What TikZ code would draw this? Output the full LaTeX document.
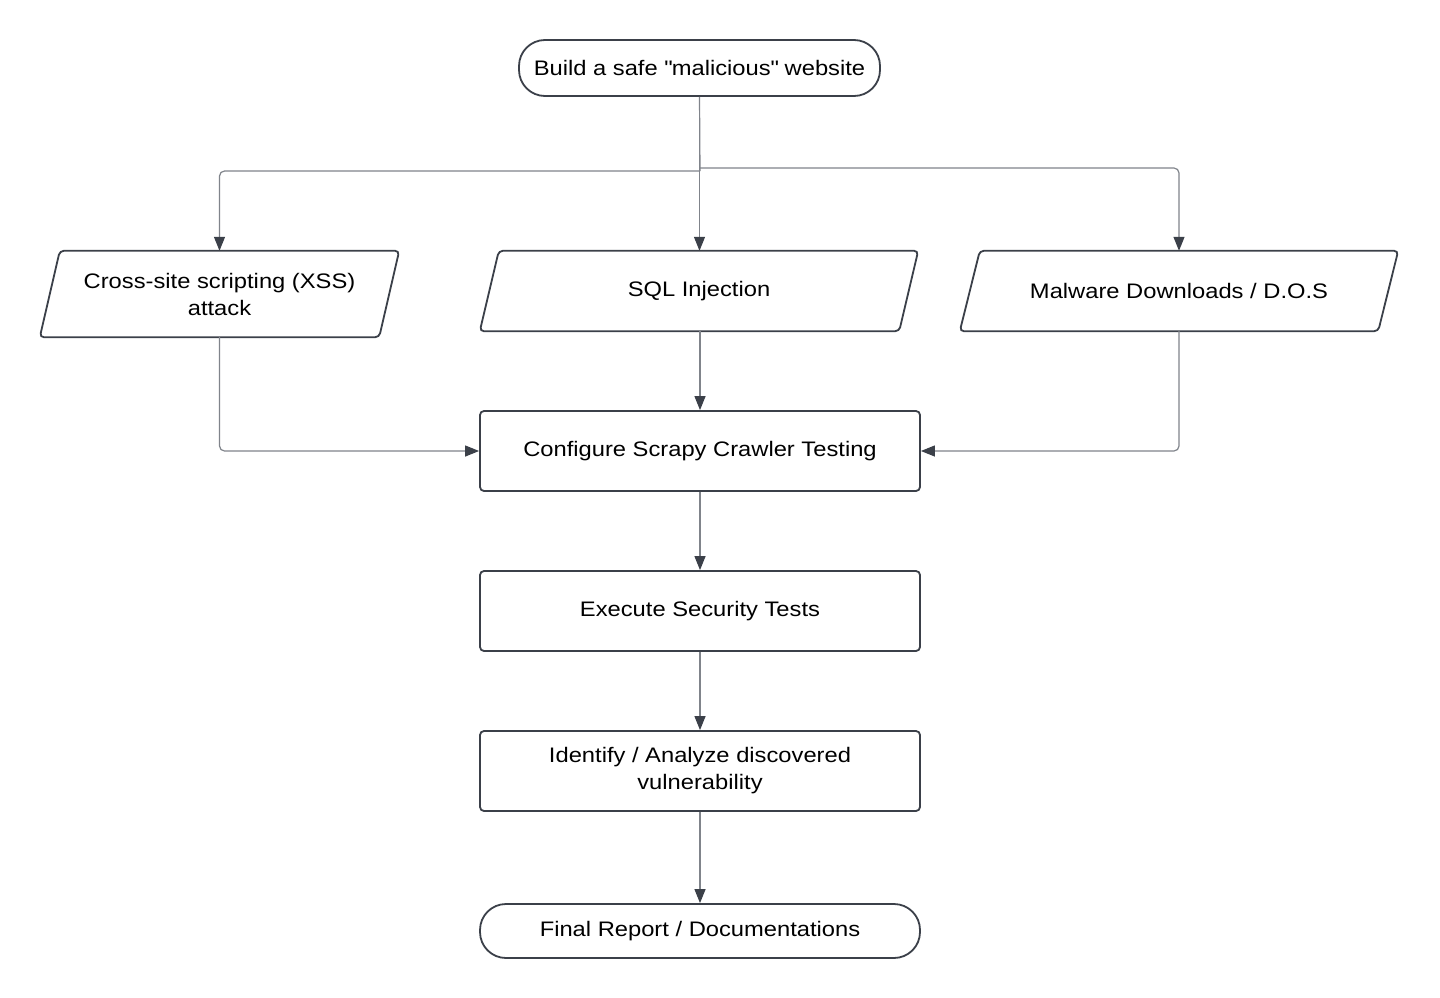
\documentclass[tikz,border=0pt]{standalone}
\usepackage{fontspec}
\setmainfont{Liberation Sans}[FakeStretch=1.13]
\usetikzlibrary{arrows.meta,calc}
\definecolor{edge}{HTML}{3B4049}
\definecolor{wire}{HTML}{80848B}
\newcommand{\sq}{\XeTeXglyph\XeTeXcharglyph"22\relax}
\begin{document}
\begin{tikzpicture}[x=1pt,y=-1pt,
  font=\fontsize{21}{27}\selectfont,
  boxn/.style={draw=edge,line width=1.8pt,rounded corners=4pt,align=center,inner sep=0pt},
  pill/.style={draw=edge,line width=1.8pt,rounded corners=26pt,align=center,inner sep=0pt},
  paran/.style={draw=none,align=center,inner sep=0pt},
  paraline/.style={draw=edge,line width=1.8pt,rounded corners=4pt},
  conn/.style={draw=wire,line width=1.2pt,rounded corners=5pt,
    -{Triangle[length=14pt,width=11pt,color=edge]}},
  plain/.style={draw=wire,line width=1.2pt,rounded corners=5pt}]
\useasboundingbox (0,0) rectangle (1440,998);
\fill[white] (0,0) rectangle (1440,998);

% nodes
\node[pill,minimum width=361pt,minimum height=56pt] (top) at (699.5,68) {Build a safe \sq malicious\sq{} website};

\node[paran,minimum width=359pt,minimum height=86pt] (xss) at (219.5,294) {Cross-site scripting (XSS)\\attack};
\node[paran,minimum width=438pt,minimum height=80pt] (sql) at (699,291) {SQL Injection};
\node[paran,minimum width=438pt,minimum height=80pt] (mal) at (1179,291) {Malware Downloads / D.O.S};

\draw[paraline] ([xshift=20pt]xss.north west) -- (xss.north east) -- ([xshift=-20pt]xss.south east) -- (xss.south west) -- cycle;
\draw[paraline] ([xshift=19pt]sql.north west) -- (sql.north east) -- ([xshift=-19pt]sql.south east) -- (sql.south west) -- cycle;
\draw[paraline] ([xshift=20pt]mal.north west) -- (mal.north east) -- ([xshift=-20pt]mal.south east) -- (mal.south west) -- cycle;

\node[boxn,minimum width=440pt,minimum height=80pt] (conf) at (700,451) {Configure Scrapy Crawler Testing};
\node[boxn,minimum width=440pt,minimum height=80pt] (exec) at (700,611) {Execute Security Tests};
\node[boxn,minimum width=440pt,minimum height=80pt] (iden) at (700,771) {Identify / Analyze discovered\\vulnerability};
\node[pill,minimum width=440pt,minimum height=54pt] (fin) at (700,931) {Final Report / Documentations};

% connectors
\coordinate (jl) at (700,171);
\coordinate (jr) at (700,168);
\draw[plain] (top.south) -- (jl);
\draw[conn] (jl) -| (xss.north);
\draw[conn] (top.south) -- (sql.north -| top.south);
\draw[conn] (jr) -| (mal.north);

\draw[conn] (xss.south) |- (conf.west);
\draw[conn] (mal.south) |- (conf.east);
\draw[conn] (sql.south -| conf.north) -- (conf.north);
\draw[conn] (conf.south) -- (exec.north);
\draw[conn] (exec.south) -- (iden.north);
\draw[conn] (iden.south) -- (fin.north);
\end{tikzpicture}
\end{document}
